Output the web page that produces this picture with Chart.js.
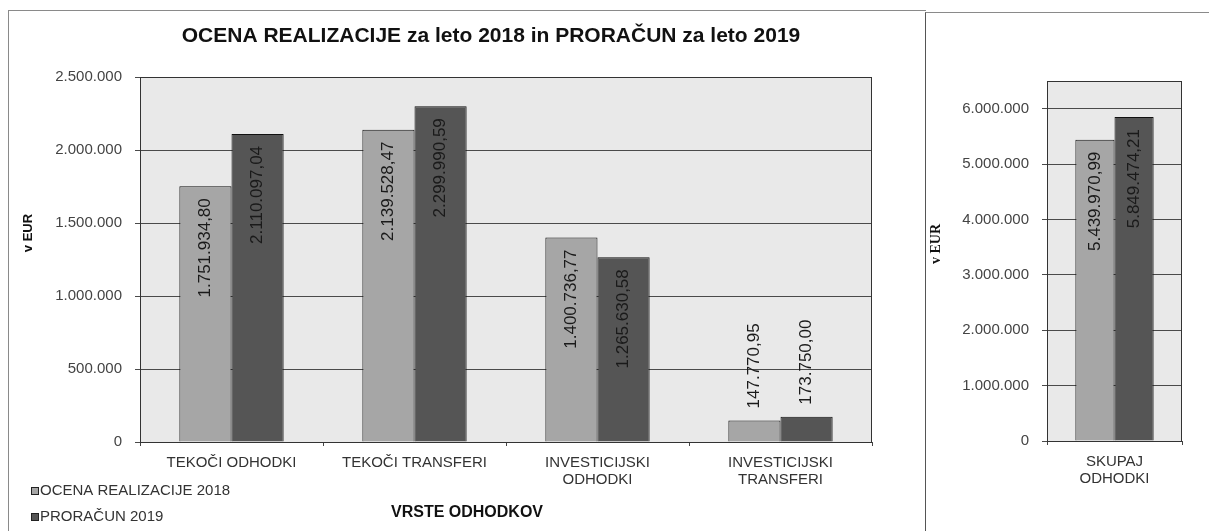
<!DOCTYPE html>
<html lang="sl">
<head>
  <meta charset="UTF-8" />
  <title>OCENA REALIZACIJE za leto 2018 in PRORAČUN za leto 2019</title>
  <script src="https://cdn.jsdelivr.net/npm/chart.js"></script>
  <style>
    body {
      margin: 0;
      background: #fff;
      width: 1209px;
      height: 531px;
      overflow: hidden;
      position: relative;
      font-family: 'Liberation Sans', Arial, sans-serif;
    }
    #leftBox {
      position: absolute;
      left: 8px;
      top: 10px;
      width: 917px;
      height: 530px;
      border-left: 1px solid #8a8a8a;
      border-top: 1px solid #8a8a8a;
    }
    #rightBox {
      position: absolute;
      left: 925px;
      top: 12px;
      width: 290px;
      height: 530px;
      border-left: 1px solid #555;
      border-top: 1px solid #8a8a8a;
    }
    canvas { display: block; }
  </style>
</head>
<body>
  <div id="leftBox"><canvas id="mainChart" width="910" height="521"></canvas></div>
  <div id="rightBox"><canvas id="totalChart" width="284" height="519"></canvas></div>

  <script>
    // ---- data ----
    const chartTitle = 'OCENA REALIZACIJE za leto 2018 in PRORAČUN za leto 2019';
    const xAxisTitle = 'VRSTE ODHODKOV';
    const yAxisTitle = 'v EUR';
    const seriesNames = ['OCENA REALIZACIJE 2018', 'PRORAČUN 2019'];

    const categories = [['TEKOČI ODHODKI'], ['TEKOČI TRANSFERI'], ['INVESTICIJSKI', 'ODHODKI'], ['INVESTICIJSKI', 'TRANSFERI']];
    const ocena2018 = [1751934.80, 2139528.47, 1400736.77, 147770.95];
    const proracun2019 = [2110097.04, 2299990.59, 1265630.58, 173750.00];
    const mainTicks = [0, 500000, 1000000, 1500000, 2000000, 2500000];

    const totalCategory = [['SKUPAJ', 'ODHODKI']];
    const totalOcena2018 = [5439970.99];
    const totalProracun2019 = [5849474.21];
    const totalTicks = [0, 1000000, 2000000, 3000000, 4000000, 5000000, 6000000];

    const colors = ['#a6a6a6', '#555555'];

    // 2500000 -> "2.500.000", 1751934.8 -> "1.751.934,80"
    function fmtInt(v) {
      return String(Math.round(v)).replace(/\B(?=(\d{3})+(?!\d))/g, '.');
    }
    function fmtDec(v) {
      const parts = v.toFixed(2).split('.');
      return fmtInt(Number(parts[0])) + ',' + parts[1];
    }

    const FONT = "'Liberation Sans', Arial, sans-serif";
    const SERIF = "'Liberation Serif', 'Times New Roman', serif";

    // plot background + frame
    const frame = {
      id: 'frame',
      beforeDraw(chart) {
        const { ctx, chartArea: a } = chart;
        ctx.save();
        ctx.fillStyle = '#e9e9e9';
        ctx.fillRect(a.left, a.top, a.right - a.left, a.bottom - a.top);
        ctx.restore();
      },
      afterDraw(chart) {
        const { ctx, chartArea: a } = chart;
        ctx.save();
        ctx.strokeStyle = '#333';
        ctx.lineWidth = 1;
        ctx.strokeRect(a.left + 0.5, a.top + 0.5, a.right - a.left - 1, a.bottom - a.top);
        ctx.restore();
      }
    };

    // vertical value labels
    const valueLabels = {
      id: 'valueLabels',
      afterDatasetsDraw(chart) {
        const ctx = chart.ctx;
        ctx.save();
        ctx.font = '17px ' + FONT;
        ctx.fillStyle = '#1a1a1a';
        ctx.textBaseline = 'middle';
        chart.data.datasets.forEach((ds, i) => {
          chart.getDatasetMeta(i).data.forEach((bar, j) => {
            const txt = fmtDec(ds.data[j]);
            const w = ctx.measureText(txt).width;
            const h = bar.base - bar.y;
            ctx.save();
            if (w + 24 < h) {
              ctx.translate(bar.x, bar.y + 12);
              ctx.rotate(-Math.PI / 2);
              ctx.textAlign = 'right';
            } else {
              ctx.translate(bar.x, bar.y - 12);
              ctx.rotate(-Math.PI / 2);
              ctx.textAlign = 'left';
            }
            ctx.fillText(txt, 0, 0);
            ctx.restore();
          });
        });
        ctx.restore();
      }
    };

    // rotated "v EUR"
    function yTitle(x, y, font) {
      return {
        id: 'yTitle',
        afterDraw(chart) {
          const ctx = chart.ctx;
          ctx.save();
          ctx.translate(x, y);
          ctx.rotate(-Math.PI / 2);
          ctx.font = font;
          ctx.fillStyle = '#111';
          ctx.textAlign = 'center';
          ctx.textBaseline = 'middle';
          ctx.fillText(yAxisTitle, 0, 0);
          ctx.restore();
        }
      };
    }

    // title, x caption and legend of the main chart
    const extras = {
      id: 'extras',
      afterDraw(chart) {
        const ctx = chart.ctx;
        ctx.save();
        ctx.fillStyle = '#111';
        ctx.textBaseline = 'middle';
        ctx.textAlign = 'center';
        ctx.font = 'bold 21px ' + FONT;
        ctx.fillText(chartTitle, 482, 25);
        ctx.font = 'bold 16px ' + FONT;
        ctx.fillText(xAxisTitle, 458, 502);

        ctx.textAlign = 'left';
        ctx.font = '15px ' + FONT;
        chart.data.datasets.forEach((ds, i) => {
          const y = 480 + i * 26;
          ctx.fillStyle = ds.backgroundColor;
          ctx.fillRect(22, y - 4, 8, 8);
          ctx.strokeStyle = '#222';
          ctx.strokeRect(22.5, y - 3.5, 7, 7);
          ctx.fillStyle = '#333';
          ctx.fillText(ds.label, 31, y);
        });
        ctx.restore();
      }
    };

    function makeDatasets(a, b) {
      return [a, b].map((d, i) => ({
        label: seriesNames[i],
        data: d,
        backgroundColor: colors[i],
        borderColor: '#111',
        borderWidth: 1,
        borderSkipped: 'bottom',
        barPercentage: 1
      }));
    }

    function makeOptions(o) {
      return {
        responsive: false,
        animation: false,
        layout: { padding: o.padding },
        plugins: { legend: { display: false }, tooltip: { enabled: false } },
        datasets: { bar: { categoryPercentage: o.catPct } },
        scales: {
          x: {
            afterFit: s => { s.height = o.xHeight; },
            grid: { display: true, drawOnChartArea: false, color: '#444', tickLength: 4 },
            border: { display: false },
            ticks: { color: '#333', font: { family: FONT, size: 15, lineHeight: 1.15 }, padding: 8, maxRotation: 0, autoSkip: false }
          },
          y: {
            min: 0,
            max: o.max,
            afterFit: s => { s.width = o.yWidth; },
            afterBuildTicks: s => { s.ticks = o.ticks.map(v => ({ value: v })); },
            grid: { color: '#4a4a4a', tickLength: 5 },
            border: { display: false },
            ticks: {
              color: '#444',
              padding: 13,
              font: { family: FONT, size: 15 },
              callback: v => fmtInt(v)
            }
          }
        }
      };
    }

    new Chart(document.getElementById('mainChart'), {
      type: 'bar',
      data: { labels: categories, datasets: makeDatasets(ocena2018, proracun2019) },
      options: makeOptions({
        padding: { top: 66, right: 47, bottom: 45, left: 0 },
        catPct: 0.57, xHeight: 45, yWidth: 131,
        max: 2500000, ticks: mainTicks
      }),
      plugins: [frame, valueLabels, extras, yTitle(19, 222, 'bold 13px ' + FONT)]
    });

    new Chart(document.getElementById('totalChart'), {
      type: 'bar',
      data: { labels: totalCategory, datasets: makeDatasets(totalOcena2018, totalProracun2019) },
      options: makeOptions({
        padding: { top: 68, right: 28, bottom: 46, left: 0 },
        catPct: 0.58, xHeight: 45, yWidth: 121,
        max: 6500000, ticks: totalTicks
      }),
      plugins: [frame, valueLabels, yTitle(10, 231, 'bold 14px ' + SERIF)]
    });
  </script>
</body>
</html>
